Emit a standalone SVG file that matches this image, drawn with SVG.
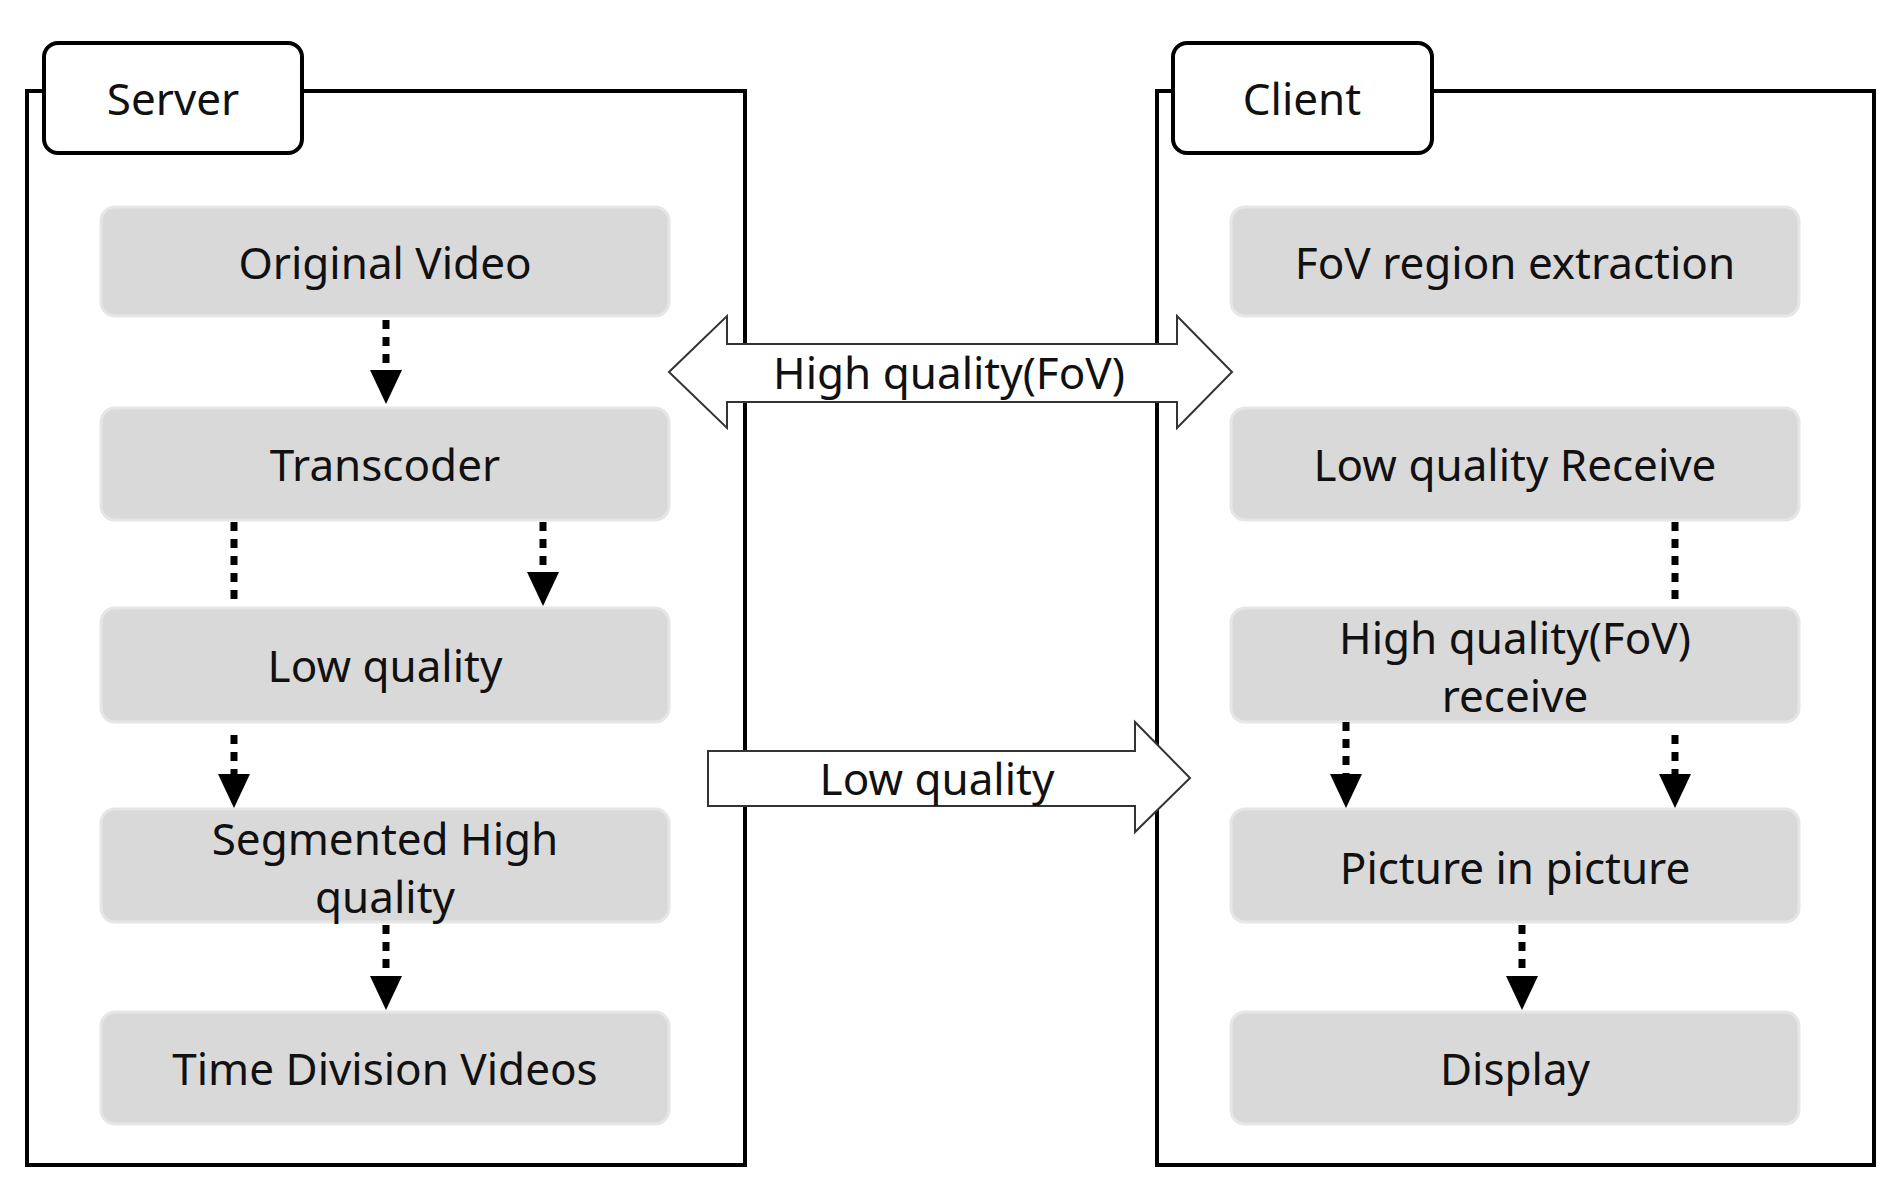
<svg xmlns="http://www.w3.org/2000/svg" width="1899" height="1196" viewBox="0 0 1899 1196">
<style>
text{font-family:"Noto Sans","DejaVu Sans",sans-serif;font-size:44px;fill:#111;text-anchor:middle;dominant-baseline:central}
.frame{fill:none;stroke:#000;stroke-width:4}
.tab{fill:#fff;stroke:#000;stroke-width:4}
.node{fill:#d9d9d9;stroke:#e6e6e6;stroke-width:3}
.dot{stroke:#000;stroke-width:7;stroke-dasharray:9 8;fill:none}
.big{fill:#fff;stroke:#333;stroke-width:2}
</style>
<defs><marker id="ah" markerWidth="8" markerHeight="8" refX="7" refY="4" orient="auto" markerUnits="userSpaceOnUse" viewBox="0 0 8 8"><path d="M0,0 L8,4 L0,8Z"/></marker></defs>
<g id="server"><rect class="frame" x="27" y="91" width="718" height="1074"/><rect class="tab" x="44" y="43" width="258" height="110" rx="14"/><text x="173" y="98">Server</text></g>
<g id="client"><rect class="frame" x="1157" y="91" width="717" height="1074"/><rect class="tab" x="1173" y="43" width="259" height="110" rx="14"/><text x="1302" y="98">Client</text></g>
<g id="n1"><rect class="node" x="101" y="207" width="568" height="109" rx="14"/><text x="385" y="262">Original Video</text></g>
<g id="n2"><rect class="node" x="101" y="408" width="568" height="112" rx="14"/><text x="385" y="464">Transcoder</text></g>
<g id="n3"><rect class="node" x="101" y="608" width="568" height="114" rx="14"/><text x="385" y="665">Low quality</text></g>
<g id="n4"><rect class="node" x="101" y="809" width="568" height="113" rx="14"/><text x="385" y="838">Segmented High</text><text x="385" y="896">quality</text></g>
<g id="n5"><rect class="node" x="101" y="1012" width="568" height="112" rx="14"/><text x="385" y="1068">Time Division Videos</text></g>
<g id="c1"><rect class="node" x="1231" y="207" width="568" height="109" rx="14"/><text x="1515" y="262">FoV region extraction</text></g>
<g id="c2"><rect class="node" x="1231" y="408" width="568" height="112" rx="14"/><text x="1515" y="464">Low quality Receive</text></g>
<g id="c3"><rect class="node" x="1231" y="608" width="568" height="114" rx="14"/><text x="1515" y="637">High quality(FoV)</text><text x="1515" y="695">receive</text></g>
<g id="c4"><rect class="node" x="1231" y="809" width="568" height="113" rx="14"/><text x="1515" y="867">Picture in picture</text></g>
<g id="c5"><rect class="node" x="1231" y="1012" width="568" height="112" rx="14"/><text x="1515" y="1068">Display</text></g>
<g id="connectors">
<g fill="#000">
<line class="dot" x1="386" y1="320" x2="386" y2="372"/><path d="M370,370 L402,370 L386,404Z"/>
<line class="dot" x1="234" y1="522" x2="234" y2="604"/>
<line class="dot" x1="543" y1="522" x2="543" y2="574"/><path d="M527,572 L559,572 L543,606Z"/>
<line class="dot" x1="234" y1="735" x2="234" y2="776"/><path d="M218,774 L250,774 L234,808Z"/>
<line class="dot" x1="386" y1="925" x2="386" y2="978"/><path d="M370,976 L402,976 L386,1010Z"/>
<line class="dot" x1="1675" y1="522" x2="1675" y2="604"/>
<line class="dot" x1="1346" y1="722" x2="1346" y2="776"/><path d="M1330,774 L1362,774 L1346,808Z"/>
<line class="dot" x1="1675" y1="735" x2="1675" y2="776"/><path d="M1659,774 L1691,774 L1675,808Z"/>
<line class="dot" x1="1522" y1="925" x2="1522" y2="978"/><path d="M1506,976 L1538,976 L1522,1010Z"/>
</g>
<path class="big" d="M669,372 L727,316 L727,344 L1177,344 L1177,316 L1232,372 L1177,428 L1177,402 L727,402 L727,428Z"/>
<text x="949" y="372">High quality(FoV)</text>
<path class="big" d="M708,751 L1135,751 L1135,722 L1190,778 L1135,832 L1135,806 L708,806Z"/>
<text x="937" y="778">Low quality</text>
</g>
</svg>
